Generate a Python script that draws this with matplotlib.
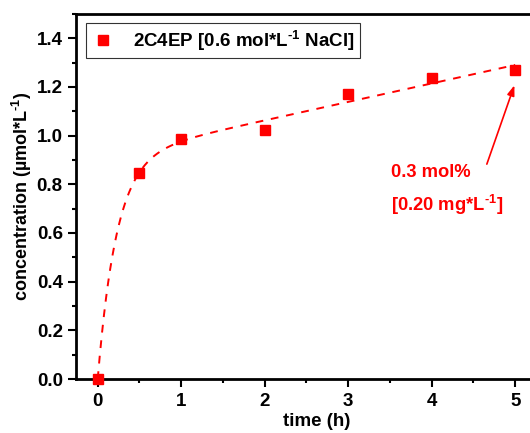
import numpy as np
import matplotlib
matplotlib.use("Agg")
import matplotlib.pyplot as plt
from matplotlib.ticker import MultipleLocator

plt.rcParams['font.family'] = ['Liberation Sans', 'DejaVu Sans']
plt.rcParams['font.weight'] = 'bold'
plt.rcParams['mathtext.fontset'] = 'custom'
plt.rcParams['mathtext.rm'] = 'Liberation Sans:bold'
plt.rcParams['mathtext.bf'] = 'Liberation Sans:bold'
plt.rcParams['mathtext.it'] = 'Liberation Sans:bold'
plt.rcParams['mathtext.default'] = 'bf'

# Measured concentration over time
time_h = np.array([0, 0.5, 1, 2, 3, 4, 5])
conc = np.array([0.0, 0.847, 0.988, 1.022, 1.17, 1.237, 1.268])

series_label = r'2C4EP [0.6 mol*L$^{\text{-1}}$ NaCl]'
note_line1 = '0.3 mol%'
note_line2 = r'[0.20 mg*L$^{\text{-1}}$]'
x_label = 'time (h)'
y_label = r'concentration (µmol*L$^{\text{-1}}$)'

# Fit y = A(1 - exp(-k t)) + c t : grid over k, linear least squares for A, c
best = None
for k in np.linspace(0.5, 15, 2901):
    M = np.column_stack([1 - np.exp(-k * time_h), time_h])
    coef, *_ = np.linalg.lstsq(M, conc, rcond=None)
    err = np.sum((M @ coef - conc) ** 2)
    if best is None or err < best[0]:
        best = (err, k, coef)
_, k_fit, (A_fit, c_fit) = best
t_fit = np.linspace(0, 5, 400)
y_fit = A_fit * (1 - np.exp(-k_fit * t_fit)) + c_fit * t_fit

fig = plt.figure(figsize=(5.30, 4.33), dpi=100)
ax = fig.add_axes([0.1434, 0.1247, 0.9075, 0.843])

red = '#ff0000'
ax.plot(t_fit, y_fit, color=red, lw=1.4, linestyle=(0, (4, 4)), zorder=2)
ax.plot(time_h, conc, 's', color=red, markersize=7.5, label=series_label,
        zorder=3, clip_on=False)

ax.set_xlim(-0.26, 5.5)
ax.set_xticks([0, 1, 2, 3, 4, 5])
ax.xaxis.set_minor_locator(MultipleLocator(0.5))
ax.yaxis.set_major_locator(MultipleLocator(0.2))
ax.yaxis.set_minor_locator(MultipleLocator(0.1))
ax.set_ylim(0, 1.5)
ax.tick_params(which='major', direction='out', length=6, width=1.5, labelsize=13.5)
ax.tick_params(which='minor', direction='out', length=3, width=1.5)
ax.tick_params(axis='x', pad=4)
for s in ['left', 'bottom', 'top']:
    ax.spines[s].set_linewidth(2)
ax.spines['right'].set_visible(False)
for lbl in ax.get_xticklabels() + ax.get_yticklabels():
    lbl.set_fontweight('bold')

ax.set_xlabel(x_label, fontsize=13.5, fontweight='bold', labelpad=2)
ax.set_ylabel(y_label, fontsize=13, fontweight='bold', labelpad=2)

leg = ax.legend(loc='upper left', bbox_to_anchor=(0.021, 0.975),
                frameon=True, fancybox=False, edgecolor='black',
                handletextpad=1.0, borderpad=0.3, handlelength=1.2,
                borderaxespad=0.0, prop={'weight': 'bold', 'size': 13.5})
leg.get_frame().set_linewidth(0.8)

ax.text(3.51, 0.847, note_line1, color=red, fontsize=13.2, fontweight='bold',
        va='center', ha='left')
ax.text(3.51, 0.714, note_line2, color=red, fontsize=13.2, fontweight='bold',
        va='center', ha='left')
ax.annotate('', xy=(4.99, 1.207), xytext=(4.66, 0.883),
            arrowprops=dict(arrowstyle='-|>,head_length=0.5,head_width=0.18',
                            color=red, lw=1.2, mutation_scale=12,
                            shrinkA=0, shrinkB=0))

fig.savefig('out.png', dpi=100)
